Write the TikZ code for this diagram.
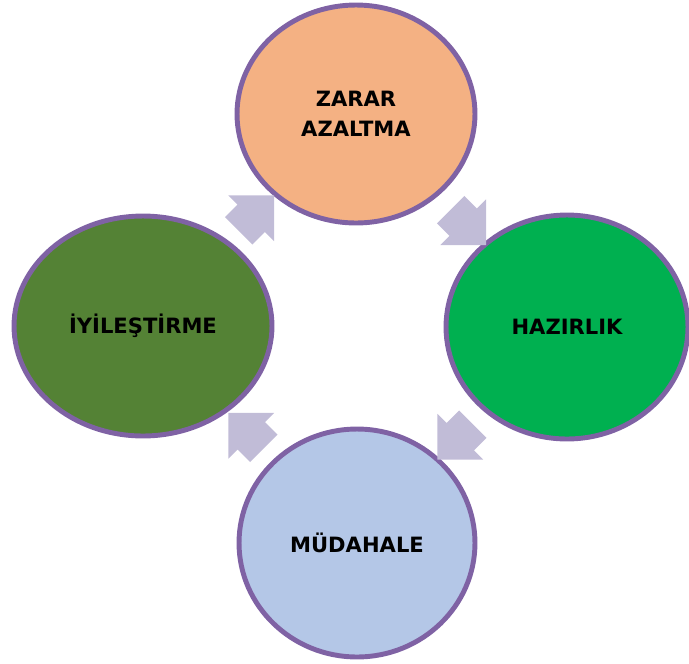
\documentclass[tikz,border=0pt]{standalone}
\usepackage{fontspec}
\setmainfont{DejaVu Sans}
\usepackage{xcolor}
\usetikzlibrary{calc, shapes.geometric, shapes.arrows}

\definecolor{rim}{HTML}{7F62A4}
\definecolor{peach}{HTML}{F4B183}
\definecolor{leaf}{HTML}{00B050}
\definecolor{sky}{HTML}{B4C7E7}
\definecolor{moss}{HTML}{548235}
\definecolor{lilac}{HTML}{C1BCD7}

\tikzset{
    phase/.style={ellipse, draw=rim, line width=2.8pt, inner sep=0pt,
        align=center, font=\bfseries\fontsize{12}{17}\selectfont},
    turn/.style={single arrow, fill=lilac, draw=none, inner xsep=0pt,
        inner ysep=0.38cm, minimum height=1.0cm,
        single arrow head extend=0.26cm}
}

\begin{document}
\begin{tikzpicture}[x=0.02cm, y=-0.02cm]
    \useasboundingbox (0,0) rectangle (689,663);

    % Coordinates
    \coordinate (T) at (356,114);
    \coordinate (R) at (567,327);
    \coordinate (B) at (357,543);
    \coordinate (L) at (143,326);

    % Top
    \node[phase, fill=peach, minimum width=4.76cm, minimum height=4.36cm] (zarar) at (T) {ZARAR\\AZALTMA};
    % Right
    \node[phase, fill=leaf, minimum width=4.84cm, minimum height=4.48cm] (hazirlik) at (R) {HAZIRLIK};
    % Bottom
    \node[phase, fill=sky, minimum width=4.72cm, minimum height=4.56cm] (mudahale) at (B) {MÜDAHALE};
    % Left
    \node[phase, fill=moss, minimum width=5.16cm, minimum height=4.40cm] (iyilestirme) at (L) {İYİLEŞTİRME};

    % Arrows
    \node[turn, rotate=45] (a1) at ($(iyilestirme)!0.5!(zarar)$) {};
    \node[turn, rotate=-45] (a2) at ($(zarar)!0.5!(hazirlik)$) {};
    \node[turn, rotate=-135] (a3) at ($(hazirlik)!0.5!(mudahale)$) {};
    \node[turn, rotate=135] (a4) at ($(mudahale)!0.5!(iyilestirme)+(3,3)$) {};
\end{tikzpicture}
\end{document}
